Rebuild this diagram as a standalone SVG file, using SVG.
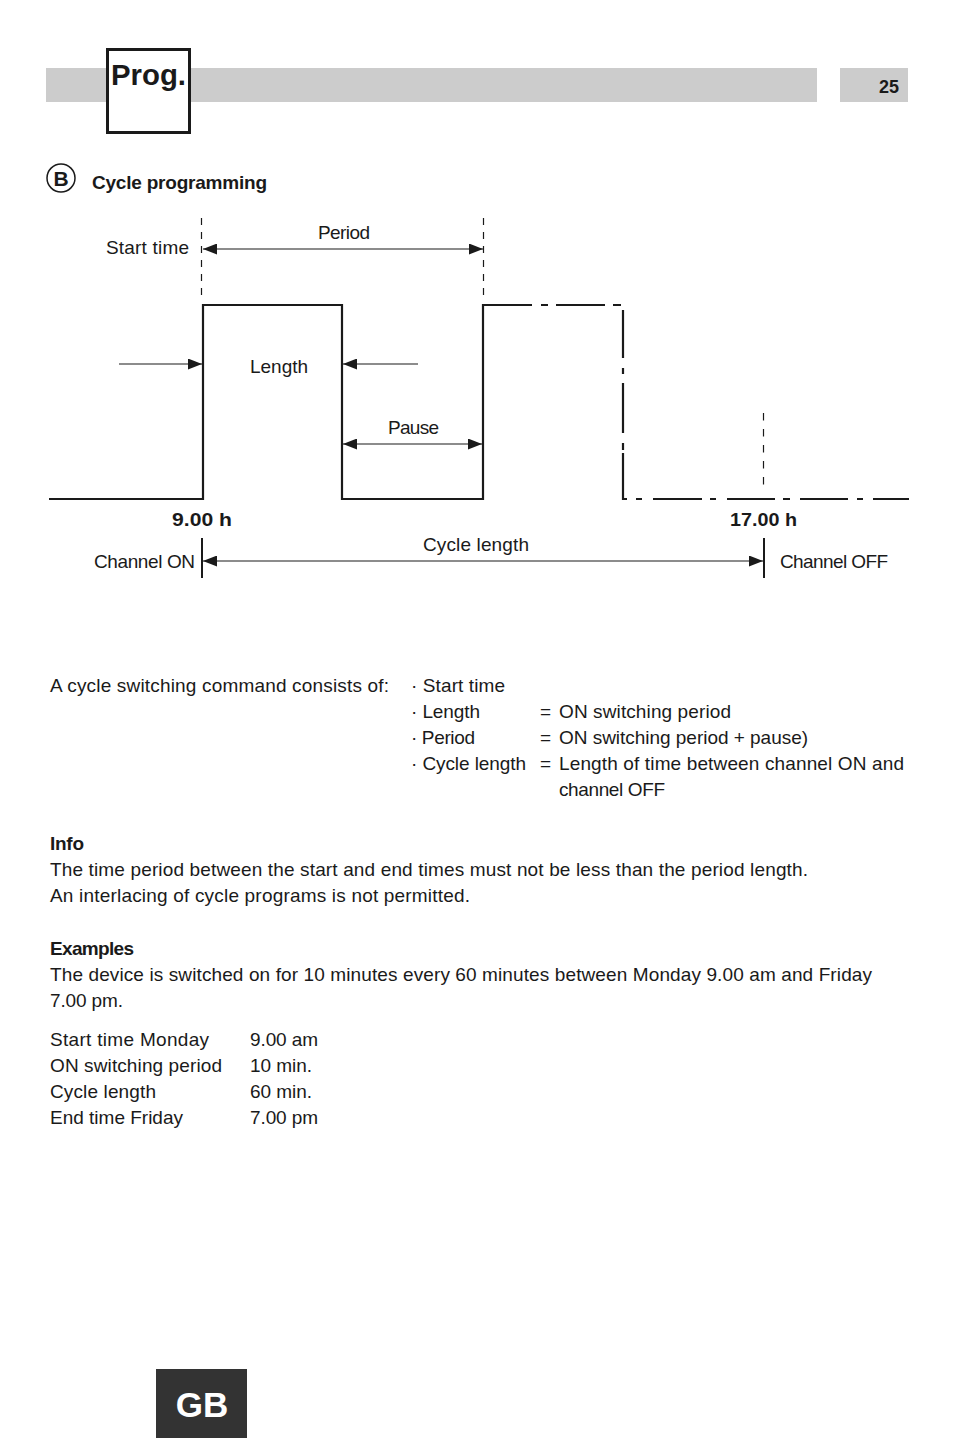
<svg xmlns="http://www.w3.org/2000/svg" width="954" height="1438" viewBox="0 0 954 1438">
<defs>
<style>
text{font-family:"Liberation Sans",Arial,sans-serif;fill:#1a1a1a;font-size:19px}
.b{font-weight:bold}
.w{fill:none;stroke:#1a1a1a;stroke-width:2.2}
.t{fill:none;stroke:#1a1a1a;stroke-width:1.2}
.d{fill:none;stroke:#1a1a1a;stroke-width:1.2;stroke-dasharray:7 7}
</style>
<marker id="ah" markerUnits="userSpaceOnUse" markerWidth="15" markerHeight="11" refX="14" refY="5.5" orient="auto-start-reverse" viewBox="0 0 15 11">
<path d="M0,0 L14,5.5 L0,11 z" fill="#1a1a1a"/>
</marker>
</defs>
<rect width="954" height="1438" fill="#ffffff"/>
<g id="header">
<rect x="46" y="68" width="771" height="34" fill="#cccccc"/>
<rect x="107.5" y="49.5" width="82" height="83" fill="#ffffff" stroke="#1a1a1a" stroke-width="3"/>
<text x="111" y="85" class="b" style="font-size:30px" textLength="75" lengthAdjust="spacingAndGlyphs">Prog.</text>
<rect x="840" y="68" width="68" height="34" fill="#cccccc"/>
<text x="889" y="93" class="b" text-anchor="middle" style="font-size:18px">25</text>
</g>
<g id="title">
<circle cx="61" cy="178" r="14" fill="none" stroke="#1a1a1a" stroke-width="1.5"/>
<text x="61" y="186" text-anchor="middle" class="b" style="font-size:21px">B</text>
<text x="92" y="189" class="b" textLength="175">Cycle programming</text>
</g>
<g id="connectors">
<line x1="201.5" y1="218" x2="201.5" y2="297" class="d"/>
<line x1="483.5" y1="218" x2="483.5" y2="297" class="d"/>
<line x1="203" y1="249" x2="483" y2="249" class="t" marker-start="url(#ah)" marker-end="url(#ah)"/>
<line x1="119" y1="364" x2="202" y2="364" class="t" marker-end="url(#ah)"/>
<line x1="418" y1="364" x2="343" y2="364" class="t" marker-end="url(#ah)"/>
<line x1="343" y1="444" x2="482" y2="444" class="t" marker-start="url(#ah)" marker-end="url(#ah)"/>
<line x1="763.5" y1="413" x2="763.5" y2="488" fill="none" stroke="#1a1a1a" stroke-width="1.2" stroke-dasharray="7.5 8.5"/>
<line x1="202" y1="538" x2="202" y2="578" stroke="#1a1a1a" stroke-width="2"/>
<line x1="764" y1="538" x2="764" y2="578" stroke="#1a1a1a" stroke-width="2"/>
<line x1="203" y1="561" x2="763" y2="561" class="t" marker-start="url(#ah)" marker-end="url(#ah)"/>
</g>
<g id="waveform">
<path class="w" d="M49,499 H203 V305 H342 V499 H483 V305 H532 M541,305 H548 M556,305 H605 M613,305 H621 M623,310 V358 M623,368 V374 M623,383 V433 M623,443 V450 M623,453 V499 H627 M636,499 H642 M653,499 H702 M710,499 H716 M727,499 H775 M783,499 H790 M800,499 H848 M857,499 H863 M873,499 H909"/>
</g>
<g id="labels">
<text x="106" y="254" textLength="83">Start time</text>
<text x="318" y="239" textLength="52">Period</text>
<text x="250" y="373" textLength="58">Length</text>
<text x="388" y="434" textLength="51">Pause</text>
<text x="172" y="526" class="b" textLength="60" lengthAdjust="spacingAndGlyphs">9.00 h</text>
<text x="730" y="526" class="b" textLength="67" lengthAdjust="spacingAndGlyphs">17.00 h</text>
<text x="423" y="551" textLength="106">Cycle length</text>
<text x="94" y="568" textLength="101">Channel ON</text>
<text x="780" y="568" textLength="108">Channel OFF</text>
</g>
<g id="body">
<text x="50" y="692" textLength="339">A cycle switching command consists of:</text>
<text x="411" y="692" textLength="94">· Start time</text>
<text x="411" y="718" textLength="69">· Length</text>
<text x="411" y="744" textLength="64">· Period</text>
<text x="411" y="770" textLength="115">· Cycle length</text>
<text x="540" y="718">=</text>
<text x="540" y="744">=</text>
<text x="540" y="770">=</text>
<text x="559" y="718" textLength="172">ON switching period</text>
<text x="559" y="744" textLength="249">ON switching period + pause)</text>
<text x="559" y="770" textLength="345">Length of time between channel ON and</text>
<text x="559" y="796" textLength="106">channel OFF</text>
<text x="50" y="850" class="b" textLength="34">Info</text>
<text x="50" y="876" textLength="758">The time period between the start and end times must not be less than the period length.</text>
<text x="50" y="902" textLength="420">An interlacing of cycle programs is not permitted.</text>
<text x="50" y="955" class="b" textLength="84">Examples</text>
<text x="50" y="981" textLength="822">The device is switched on for 10 minutes every 60 minutes between Monday 9.00 am and Friday</text>
<text x="50" y="1007" textLength="73">7.00 pm.</text>
<text x="50" y="1046" textLength="159">Start time Monday</text>
<text x="250" y="1046" textLength="68">9.00 am</text>
<text x="50" y="1072" textLength="172">ON switching period</text>
<text x="250" y="1072" textLength="62">10 min.</text>
<text x="50" y="1098" textLength="106">Cycle length</text>
<text x="250" y="1098" textLength="62">60 min.</text>
<text x="50" y="1124" textLength="133">End time Friday</text>
<text x="250" y="1124" textLength="68">7.00 pm</text>
</g>
<g id="footer">
<rect x="156" y="1369" width="91" height="69" fill="#333333"/>
<text x="202" y="1417" text-anchor="middle" style="font-size:35px;fill:#ffffff;font-weight:bold">GB</text>
</g>
</svg>
